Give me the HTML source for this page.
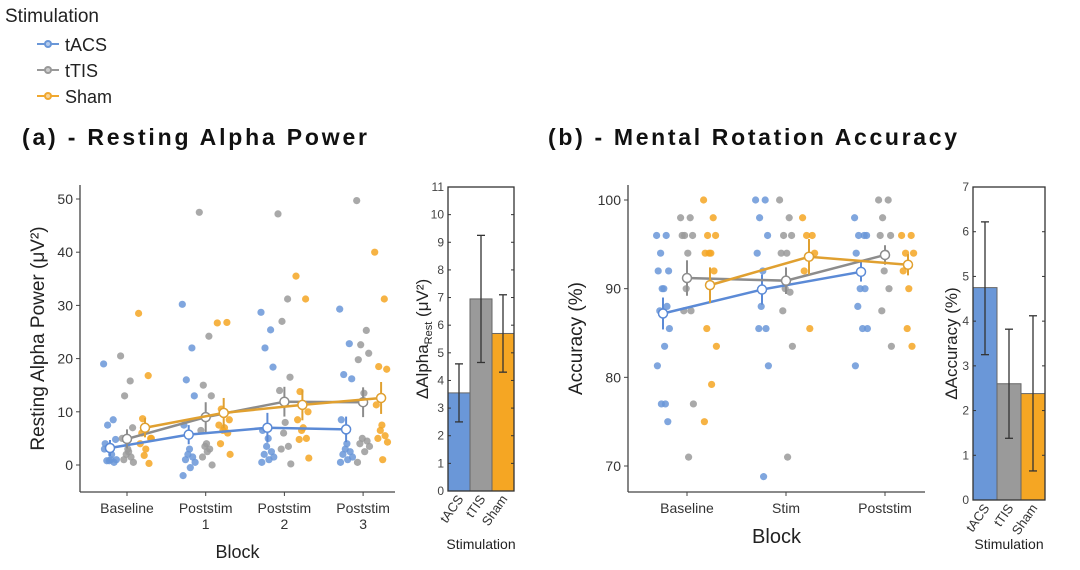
<!DOCTYPE html>
<html><head><meta charset="utf-8"><style>
body{margin:0;background:#fff;}
svg{display:block;font-family:"Liberation Sans",sans-serif;}
</style></head><body>
<svg id="c" width="1080" height="570" viewBox="0 0 1080 570">
<g>
<text x="5" y="22" font-size="19" fill="#222">Stimulation</text>
<g><line x1="37" y1="44" x2="59" y2="44" stroke="#6a97d8" stroke-width="2"/><circle cx="48" cy="44" r="4" fill="#6a97d8"/><circle cx="48" cy="44" r="2" fill="#fff" opacity=".5"/><text x="65" y="51" font-size="18" fill="#222">tACS</text></g>
<g><line x1="37" y1="70" x2="59" y2="70" stroke="#999" stroke-width="2"/><circle cx="48" cy="70" r="4" fill="#999"/><circle cx="48" cy="70" r="2" fill="#fff" opacity=".5"/><text x="65" y="77" font-size="18" fill="#222">tTIS</text></g>
<g><line x1="37" y1="96" x2="59" y2="96" stroke="#f0a830" stroke-width="2"/><circle cx="48" cy="96" r="4" fill="#f0a830"/><circle cx="48" cy="96" r="2" fill="#fff" opacity=".5"/><text x="65" y="103" font-size="18" fill="#222">Sham</text></g>
</g>
<text x="22" y="145" font-size="23" font-weight="bold" textLength="345" lengthAdjust="spacing" fill="#111">(a) - Resting Alpha Power</text>
<text x="548" y="145" font-size="23" font-weight="bold" textLength="409" lengthAdjust="spacing" fill="#111">(b) - Mental Rotation Accuracy</text>
</svg>
<script>
const groups=['tACS','tTIS','Sham'];
const colors=['#6a97d8','#9a9a9a','#f5a623'];
const lineColors=['#5b8ad6','#8c8c8c','#e0a030'];
// Panel A data
const blocksA=['Baseline','Poststim 1','Poststim 2','Poststim 3'];
const yTicksA=[0,10,20,30,40,50];
const meanTACS_A=[3.2,5.7,7.0,6.7];
const meanTTIS_A=[4.9,9.0,11.9,11.8];
const meanSham_A=[7.0,9.8,11.3,12.6];
const seTACS_A=[1.5,1.8,2.8,2.4];
const seTTIS_A=[1.8,2.8,2.8,2.8];
const seSham_A=[1.8,2.8,2.9,3.0];
const ptsTACS_A=[[19,8.5,7.5,4.8,4,1,0.8,0.5,0.8,1,2,3],[30.2,22,16,13,7.5,3,2,1.5,1,0.5,-0.5,-2],[28.7,25.4,22,18.4,6.5,5,3.5,2.5,2,1.5,1,0.5],[29.3,22.8,17,16.2,8.5,4,3,2.5,2,1.5,1,0.5]];
const ptsTTIS_A=[[20.5,15.8,13,7,5,3,2,1.5,1,0.5,2.5],[47.5,24.2,15,13,6.5,4,3.5,3,1.5,0,2.5],[47.2,31.2,27,16.5,14,8,6,3.5,3,0.2],[49.7,25.3,22.6,21,19.8,13.5,5,4.5,4,3.5,2.5,0.5]];
const ptsSham_A=[[28.5,16.8,8.7,5,4,3,1.8,0.3,6,5],[26.7,26.8,10.5,8.5,7.5,7,6.5,6,4,2],[35.5,31.2,13.8,10,8.5,7,6.5,5,4.8,1.3],[40,31.2,18.5,18,11.3,7.5,6.5,5.5,5,4.3,1]];
// Bar A
const barA=[3.55,6.95,5.7];
const barLoA=[2.5,4.65,4.3];
const barHiA=[4.6,9.25,7.1];
const barTicksA=[0,1,2,3,4,5,6,7,8,9,10,11];
// Panel B
const blocksB=['Baseline','Stim','Poststim'];
const yTicksB=[70,80,90,100];
const meanTACS_B=[87.2,89.9,91.9];
const meanTTIS_B=[91.2,90.9,93.8];
const meanSham_B=[90.4,93.6,92.7];
const seTACS_B=[1.8,1.7,1.1];
const seTTIS_B=[2.0,1.5,1.1];
const seSham_B=[2.0,2.0,1.2];
const ptsTACS_B=[[96,96,94,92,92,90,90,88,87.5,85.5,83.5,81.3,77,77,75],[100,100,98,96,94,92,88,85.5,85.5,81.3,68.8],[98,96,96,96,94,92,90,90,88,85.5,85.5,81.3]];
const ptsTTIS_B=[[98,98,96,96,96,94,90,87.5,87.5,77,71],[100,98,96,96,94,94,90,89.6,87.5,83.5,71],[100,100,98,96,96,94,92,90,87.5,83.5]];
const ptsSham_B=[[100,98,96,96,94,94,94,92,85.5,83.5,79.2,75],[98,96,96,94,92,85.5],[96,96,94,94,92,90,85.5,83.5]];
// Bar B
const barB=[4.75,2.6,2.38];
const barLoB=[3.25,1.38,0.65];
const barHiB=[6.22,3.82,4.12];
const barTicksB=[0,1,2,3,4,5,6,7];

const NS='http://www.w3.org/2000/svg';
const svg=document.getElementById('c');
function el(t,a,p){const e=document.createElementNS(NS,t);for(const k in a)e.setAttribute(k,a[k]);(p||svg).appendChild(e);return e;}
const jit=[-8,4,-3,7,-6,1,-1,5,-4,8,2,-7,3,-2,6];

function linePanel(cfg){
  const g=el('g',{});
  
  
  const y=v=>cfg.y0+(v-cfg.ymin)/(cfg.ymax-cfg.ymin)*(cfg.y1-cfg.y0);
  const xc=i=>cfg.xt[0]+i*(cfg.xt[1]-cfg.xt[0]);
  el('line',{x1:cfg.ax,y1:cfg.axTop,x2:cfg.ax,y2:cfg.axY,stroke:'#444','stroke-width':1.3},g);
  el('line',{x1:cfg.ax,y1:cfg.axY,x2:cfg.axR,y2:cfg.axY,stroke:'#444','stroke-width':1.3},g);
  cfg.yt.forEach(v=>{
    el('line',{x1:cfg.ax-4,x2:cfg.ax,y1:y(v),y2:y(v),stroke:'#444'},g);
    const t=el('text',{x:cfg.ax-7,y:y(v)+5,'text-anchor':'end','font-size':14,fill:'#333'},g);t.textContent=v;
    
  });
  cfg.cats.forEach((c,i)=>{
    el('line',{x1:xc(i),x2:xc(i),y1:cfg.axY,y2:cfg.axY+4,stroke:'#444'},g);
    c.split(' ').forEach((w,j)=>{const t=el('text',{x:xc(i),y:cfg.axY+21+j*16,'text-anchor':'middle','font-size':14,fill:'#333'},g);t.textContent=w;
      });
  });
  cfg.pts.forEach((series,s)=>series.forEach((arr,i)=>arr.forEach((v,k)=>{
    const c=el('circle',{cx:xc(i)+cfg.off[s]+jit[k%jit.length]*0.8,cy:y(v),r:3.6,fill:colors[s],opacity:0.85},g);
    
  })));
  cfg.means.forEach((m,s)=>{
    const pl=el('polyline',{points:m.map((v,i)=>(xc(i)+cfg.off[s])+','+y(v)).join(' '),fill:'none',stroke:lineColors[s],'stroke-width':2.5},g);
    
    m.forEach((v,i)=>{
      el('line',{x1:xc(i)+cfg.off[s],x2:xc(i)+cfg.off[s],y1:y(v-cfg.se[s][i]),y2:y(v+cfg.se[s][i]),stroke:lineColors[s],'stroke-width':2},g);
      const c=el('circle',{cx:xc(i)+cfg.off[s],cy:y(v),r:4.5,fill:'#fff',stroke:lineColors[s],'stroke-width':1.5},g);
      
    });
  });
  const t=el('text',{x:(cfg.ax+cfg.axR)/2,y:cfg.xtitleY,'text-anchor':'middle','font-size':cfg.xts,fill:'#222'},g);t.textContent='Block';
  
  const yt=el('text',{x:0,y:0,transform:`translate(${cfg.ytx},${(cfg.axTop+cfg.axY)/2}) rotate(-90)`,'text-anchor':'middle','font-size':19,fill:'#222'},g);yt.textContent=cfg.ytitle;
  
}
function barPanel(cfg){
  const g=el('g',{});
  
  
  const y=v=>cfg.y0-(v/cfg.ymax)*(cfg.y0-cfg.yTop);
  const w=(cfg.x1-cfg.x0)/3;
  cfg.vals.forEach((v,i)=>{
    const r=el('rect',{x:cfg.x0+i*w,y:y(v),width:w,height:y(0)-y(v),fill:colors[i],stroke:'#666','stroke-width':1},g);
    
    const cx=cfg.x0+i*w+w/2;
    el('line',{x1:cx,x2:cx,y1:y(cfg.lo[i]),y2:y(cfg.hi[i]),stroke:'#333','stroke-width':1.3},g);
    el('line',{x1:cx-4,x2:cx+4,y1:y(cfg.lo[i]),y2:y(cfg.lo[i]),stroke:'#333','stroke-width':1.3},g);
    el('line',{x1:cx-4,x2:cx+4,y1:y(cfg.hi[i]),y2:y(cfg.hi[i]),stroke:'#333','stroke-width':1.3},g);
    const t=el('text',{x:0,y:0,transform:`translate(${cx+5},${cfg.y0+8}) rotate(-55)`,'text-anchor':'end','font-size':13,fill:'#333'},g);t.textContent=groups[i];
    
  });
  el('rect',{x:cfg.x0,y:cfg.yTop,width:cfg.x1-cfg.x0,height:cfg.y0-cfg.yTop,fill:'none',stroke:'#333','stroke-width':1.3},g);
  cfg.ticks.forEach(v=>{
    el('line',{x1:cfg.x0,x2:cfg.x0+3,y1:y(v),y2:y(v),stroke:'#333'},g);
    el('line',{x1:cfg.x1-3,x2:cfg.x1,y1:y(v),y2:y(v),stroke:'#333'},g);
    const t=el('text',{x:cfg.x0-4,y:y(v)+4,'text-anchor':'end','font-size':12,fill:'#444'},g);t.textContent=v;
    
  });
  const t=el('text',{x:(cfg.x0+cfg.x1)/2,y:549,'text-anchor':'middle','font-size':14,fill:'#222'},g);t.textContent='Stimulation';
  
  const yt=el('text',{x:0,y:0,transform:`translate(${cfg.ytx},${(cfg.yTop+cfg.y0)/2}) rotate(-90)`,'text-anchor':'middle','font-size':17,fill:'#222'},g);
  
  if(cfg.sub){yt.appendChild(document.createTextNode('ΔAlpha'));const ts=el('tspan',{'font-size':11,dy:4},yt);ts.textContent='Rest';const t2=el('tspan',{dy:-4},yt);t2.textContent=' (μV²)';}
  else yt.textContent=cfg.ytitle;
}
linePanel({name:'panel-a-chart',ax:80,axR:395,axTop:185,axY:492,ymin:0,ymax:50,y0:465,y1:199,yt:yTicksA,cats:blocksA,xt:[127,205.7],off:[-17,0,18],
  pts:[ptsTACS_A,ptsTTIS_A,ptsSham_A],means:[meanTACS_A,meanTTIS_A,meanSham_A],se:[seTACS_A,seTTIS_A,seSham_A],xtitleY:558,xts:18,ytx:44,ytitle:'Resting Alpha Power (μV²)'});
barPanel({name:'panel-a-bars',x0:448,x1:514,yTop:187,y0:491,ymax:11,ticks:barTicksA,vals:barA,lo:barLoA,hi:barHiA,ytx:428,sub:true});
linePanel({name:'panel-b-chart',ax:628,axR:925,axTop:185,axY:492,ymin:70,ymax:100,y0:466,y1:200,yt:yTicksB,cats:blocksB,xt:[687,786],off:[-24,0,23],
  pts:[ptsTACS_B,ptsTTIS_B,ptsSham_B],means:[meanTACS_B,meanTTIS_B,meanSham_B],se:[seTACS_B,seTTIS_B,seSham_B],xtitleY:543,xts:20,ytx:582,ytitle:'Accuracy (%)'});
barPanel({name:'panel-b-bars',x0:973,x1:1045,yTop:187,y0:500,ymax:7,ticks:barTicksB,vals:barB,lo:barLoB,hi:barHiB,ytx:957,ytitle:'ΔAccuracy (%)'});
</script>
</body></html>
